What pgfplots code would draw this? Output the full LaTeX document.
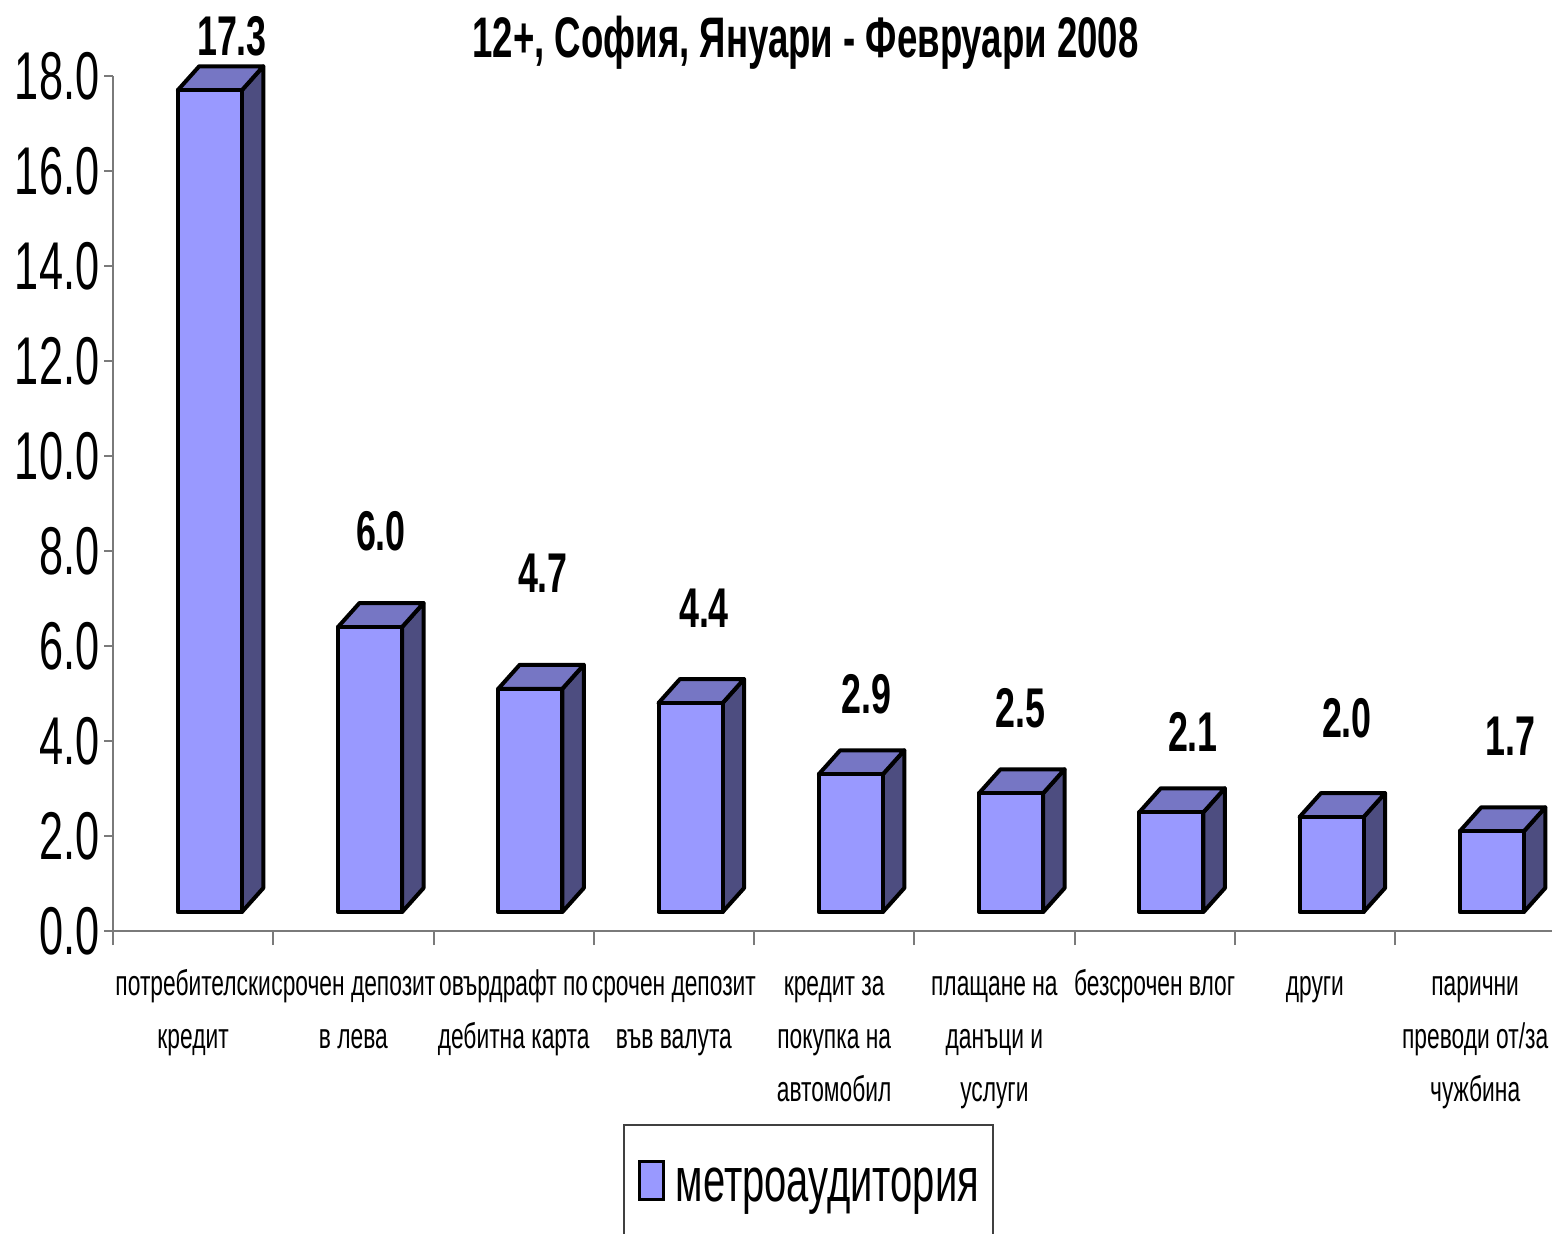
\documentclass[border=0pt]{standalone}
\usepackage{pgfplots}
\pgfplotsset{compat=1.18}
\usepackage{fontspec}
\setmainfont{Liberation Sans}[FakeStretch=0.64]
\definecolor{frontc}{HTML}{9999FF}
\definecolor{topc}{HTML}{7676C4}
\definecolor{sidec}{HTML}{4D4D80}
\definecolor{axc}{HTML}{7A7A7A}
\pgfplotsset{
  front3d/.style={fill=frontc, draw=black, line width=1pt, line join=round, forget plot},
  top3d/.style={fill=topc, draw=black, line width=1pt, line join=round, forget plot},
  side3d/.style={fill=sidec, draw=black, line width=1pt, line join=round, forget plot},
}
\begin{document}
\begin{tikzpicture}
\begin{axis}[
  x=40.0625pt, y=11.875pt,
  xmin=-0.5, xmax=8.4797, ymin=0, ymax=18,
  clip=false,
  axis lines=left,
  axis line style={-, draw=axc, line width=0.5pt},
  x axis line style={shorten <=-2.25pt},
  tick align=outside,
  ytick={0,2,...,18},
  major tick length=2.25pt,
  minor tick length=3.5pt,
  tick style={draw=axc, line width=0.5pt},
  xtick={0,...,8},
  major x tick style={draw=none},
  minor xtick={-0.5,0.5,...,7.5},
  minor x tick style={draw=axc, line width=0.5pt},
  xticklabels={
    {\strut потребителски\\кредит},
    {\strut срочен депозит\\в лева},
    {\strut овърдрафт по\\дебитна карта},
    {\strut срочен депозит\\във валута},
    {\strut кредит за\\покупка на\\автомобил},
    {\strut плащане на\\данъци и\\услуги},
    {\strut безсрочен влог},
    {\strut други},
    {\strut парични\\преводи от/за\\чужбина}},
  /pgf/number format/assume math mode=true,
  yticklabel style={/pgf/number format/fixed, /pgf/number format/fixed zerofill,
    /pgf/number format/precision=1, font=\fontsize{16.9}{18}\selectfont,
    inner sep=0pt, xshift=-1pt},
  xticklabel style={font=\fontsize{8.9}{13.25}\selectfont, align=center,
    inner sep=0pt, anchor=north, yshift=-4.5pt},
  legend style={at={(axis cs:2.6825,-4.063)}, anchor=north west,
    draw=black!75, line width=0.4pt, inner xsep=3.5pt, inner ysep=8.9pt,
    font=\fontsize{15.6}{18}\selectfont, nodes={inner sep=0pt},
    /tikz/every odd column/.append style={column sep=2.75pt}},
  legend cell align=left,
]
\foreach \i/\v in {0/17.3,1/6.0,2/4.7,3/4.4,4/2.9,5/2.5,6/2.1,7/2.0,8/1.7}{%
  \pgfmathsetmacro\xa{\i-0.096}%
  \pgfmathsetmacro\xb{\i+0.304}%
  \pgfmathsetmacro\xc{\i+0.438}%
  \pgfmathsetmacro\xd{\i+0.038}%
  \pgfmathsetmacro\yb{0.4+\v}%
  \pgfmathsetmacro\yc{0.905+\v}%
  \edef\temp{%
    \noexpand\addplot[side3d] coordinates {(\xb,0.4) (\xc,0.905) (\xc,\yc) (\xb,\yb)} --cycle;
    \noexpand\addplot[top3d] coordinates {(\xa,\yb) (\xb,\yb) (\xc,\yc) (\xd,\yc)} --cycle;
    \noexpand\addplot[front3d] coordinates {(\xa,0.4) (\xb,0.4) (\xb,\yb) (\xa,\yb)} --cycle;
  }\temp
}
\addplot[draw=none, mark=none, forget plot, nodes near coords, point meta=explicit symbolic,
  nodes near coords style={anchor=base, inner sep=0pt, font=\bfseries\fontsize{14}{16}\selectfont}]
  coordinates {
  (0.2426,18.44) [17.3]
  (1.172,8.02) [6.0]
  (2.183,7.137) [4.7]
  (3.188,6.40) [4.4]
  (4.199,4.59) [2.9]
  (5.160,4.295) [2.5]
  (6.239,3.79) [2.1]
  (7.200,4.084) [2.0]
  (8.218,3.705) [1.7]
  };
\addlegendimage{legend image code/.code={\draw[fill=frontc, draw=black, line width=0.75pt] (0pt,-3.1pt) rectangle (6pt,6.4pt);}}
\addlegendentry{метроаудитория}
\node[anchor=base, inner sep=0pt, font=\bfseries\fontsize{14.3}{16}\selectfont] at (axis cs:3.821,18.4) {12+, София, Януари - Февруари 2008};
\coordinate (BL) at (axis cs:-1.20515,-6.3579);
\coordinate (TR) at (axis cs:8.4797,19.6);
\end{axis}
\pgfresetboundingbox
\path[use as bounding box] (BL) rectangle (TR);
\end{tikzpicture}
\end{document}
